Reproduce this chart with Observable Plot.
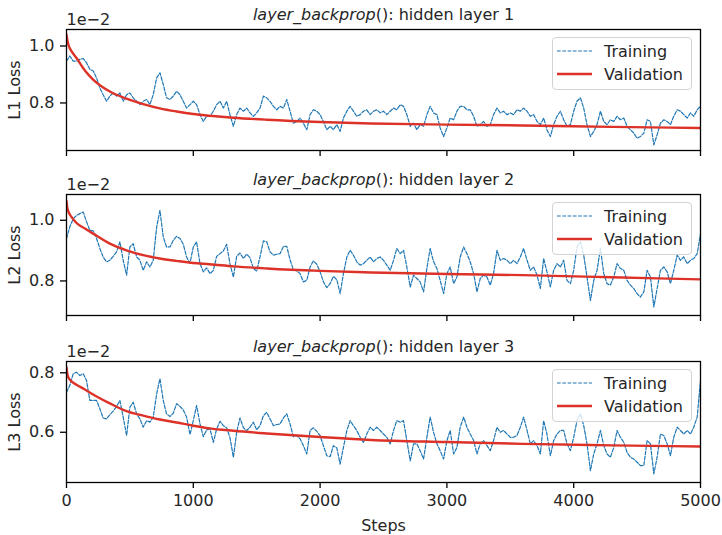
<!DOCTYPE html>
<html><head><meta charset="utf-8">
<script src="https://cdn.jsdelivr.net/npm/d3@7"></script>
<script src="https://cdn.jsdelivr.net/npm/@observablehq/plot@0.6"></script>
<style>
body{margin:0;background:#fff;}
#chart{position:relative;width:722px;height:535px;font-family:"DejaVu Sans",sans-serif;color:#262626;}
.panel{position:relative;width:722px;}
.panel svg{display:block;}
.legend{position:absolute;left:552px;width:140px;height:53px;box-sizing:border-box;border:1px solid #d3d3d3;border-radius:4px;background:rgba(255,255,255,0.8);}
</style></head><body><div id="chart"></div>
<script>
// Loss values are in units of 1e-2 (as displayed on the axes)
const stepTicks = [0, 1000, 2000, 3000, 4000, 5000];
const trainSteps = [
0,26,53,79,105,132,158,184,211,237,263,289,316,342,368,395,421,447,474,500,526,553,579,605,632,658,684,711,737,763,789,816,842,868,895,921,947,974,
1000,1026,1053,1079,1105,1132,1158,1184,1211,1237,1263,1289,1316,1342,1368,1395,1421,1447,1474,1500,1526,1553,1579,1605,1632,1658,1684,1711,1737,1763,1789,1816,1842,1868,1895,1921,1947,1974,
2000,2026,2053,2079,2105,2132,2158,2184,2211,2237,2263,2289,2316,2342,2368,2395,2421,2447,2474,2500,2526,2553,2579,2605,2632,2658,2684,2711,2737,2763,2789,2816,2842,2868,2895,2921,2947,2974,
3000,3026,3053,3079,3105,3132,3158,3184,3211,3237,3263,3289,3316,3342,3368,3395,3421,3447,3474,3500,3526,3553,3579,3605,3632,3658,3684,3711,3737,3763,3789,3816,3842,3868,3895,3921,3947,3974,
4000,4026,4053,4079,4105,4132,4158,4184,4211,4237,4263,4289,4316,4342,4368,4395,4421,4447,4474,4500,4526,4553,4579,4605,4632,4658,4684,4711,4737,4763,4789,4816,4842,4868,4895,4921,4947,4974,
5000];
const trainL1 = [
0.947,0.965,0.947,0.947,0.953,0.956,0.941,0.918,0.912,0.888,
0.853,0.829,0.806,0.824,0.835,0.824,0.835,0.806,0.829,0.835,
0.818,0.806,0.794,0.806,0.812,0.794,0.829,0.888,0.906,0.865,
0.818,0.812,0.824,0.841,0.829,0.806,0.782,0.794,0.806,0.794,
0.759,0.735,0.753,0.753,0.771,0.794,0.806,0.782,0.806,0.759,
0.718,0.759,0.782,0.771,0.782,0.765,0.753,0.765,0.782,0.824,
0.818,0.806,0.788,0.776,0.788,0.782,0.812,0.771,0.729,0.735,
0.747,0.729,0.706,0.759,0.776,0.771,0.759,0.735,0.706,0.718,
0.706,0.724,0.700,0.747,0.771,0.788,0.771,0.753,0.759,0.771,
0.776,0.759,0.771,0.776,0.765,0.771,0.759,0.771,0.782,0.776,
0.794,0.788,0.759,0.718,0.729,0.706,0.724,0.718,0.759,0.788,
0.765,0.759,0.712,0.682,0.712,0.747,0.741,0.771,0.788,0.788,
0.776,0.776,0.753,0.718,0.724,0.735,0.718,0.724,0.759,0.782,
0.765,0.771,0.759,0.765,0.759,0.776,0.771,0.782,0.771,0.753,
0.759,0.735,0.724,0.747,0.706,0.682,0.724,0.753,0.771,0.741,
0.718,0.724,0.771,0.806,0.818,0.782,0.724,0.682,0.700,0.724,
0.771,0.735,0.724,0.741,0.735,0.753,0.741,0.747,0.718,0.706,
0.694,0.676,0.682,0.694,0.741,0.735,0.653,0.688,0.729,0.741,
0.735,0.724,0.753,0.776,0.771,0.759,0.747,0.765,0.753,0.776,
0.788];
const trainL2 = [
0.940,0.978,1.005,1.016,1.022,1.027,0.995,0.967,0.965,0.940,
0.907,0.879,0.863,0.868,0.881,0.896,0.929,0.868,0.819,0.912,
0.923,0.879,0.868,0.835,0.863,0.846,0.868,0.978,1.033,0.945,
0.912,0.912,0.934,0.947,0.940,0.921,0.879,0.859,0.912,0.929,
0.857,0.830,0.843,0.824,0.835,0.881,0.890,0.899,0.921,0.857,
0.813,0.881,0.892,0.874,0.888,0.877,0.841,0.833,0.879,0.932,
0.929,0.896,0.885,0.888,0.890,0.914,0.914,0.870,0.837,0.833,
0.824,0.797,0.802,0.846,0.866,0.855,0.830,0.797,0.778,0.791,
0.815,0.804,0.758,0.824,0.879,0.901,0.885,0.863,0.852,0.857,
0.868,0.879,0.863,0.874,0.879,0.868,0.852,0.835,0.868,0.907,
0.890,0.901,0.846,0.780,0.819,0.808,0.797,0.764,0.841,0.907,
0.863,0.841,0.802,0.758,0.824,0.846,0.791,0.813,0.879,0.912,
0.890,0.863,0.824,0.764,0.808,0.819,0.813,0.786,0.824,0.901,
0.868,0.874,0.868,0.857,0.868,0.857,0.879,0.907,0.868,0.835,
0.846,0.819,0.775,0.874,0.830,0.780,0.835,0.857,0.846,0.868,
0.802,0.791,0.835,0.912,0.929,0.885,0.813,0.736,0.802,0.835,
0.907,0.824,0.791,0.786,0.813,0.857,0.841,0.835,0.802,0.786,
0.775,0.758,0.747,0.764,0.835,0.813,0.714,0.775,0.835,0.846,
0.830,0.791,0.835,0.885,0.868,0.879,0.857,0.868,0.874,0.890,
0.956];
const trainL3 = [
0.735,0.757,0.797,0.802,0.791,0.797,0.774,0.707,0.707,0.707,
0.679,0.648,0.645,0.659,0.671,0.687,0.707,0.651,0.589,0.684,
0.701,0.662,0.645,0.617,0.639,0.634,0.651,0.729,0.780,0.707,
0.662,0.653,0.664,0.696,0.687,0.675,0.651,0.592,0.639,0.690,
0.628,0.585,0.608,0.611,0.566,0.611,0.637,0.622,0.615,0.583,
0.516,0.600,0.648,0.615,0.606,0.617,0.634,0.608,0.622,0.656,
0.667,0.645,0.622,0.626,0.628,0.648,0.662,0.628,0.585,0.589,
0.578,0.555,0.527,0.606,0.615,0.603,0.589,0.555,0.521,0.518,
0.555,0.547,0.493,0.549,0.606,0.639,0.622,0.606,0.583,0.566,
0.594,0.617,0.606,0.617,0.606,0.594,0.583,0.561,0.606,0.639,
0.634,0.639,0.572,0.504,0.561,0.561,0.538,0.510,0.583,0.651,
0.600,0.561,0.538,0.510,0.572,0.606,0.527,0.549,0.617,0.651,
0.617,0.594,0.572,0.527,0.561,0.572,0.555,0.538,0.572,0.617,
0.600,0.606,0.594,0.583,0.583,0.589,0.617,0.651,0.606,0.561,
0.572,0.555,0.527,0.639,0.594,0.521,0.572,0.594,0.606,0.606,
0.561,0.538,0.583,0.639,0.662,0.622,0.561,0.471,0.527,0.561,
0.606,0.555,0.527,0.516,0.549,0.606,0.583,0.566,0.532,0.516,
0.510,0.499,0.488,0.488,0.572,0.561,0.460,0.516,0.594,0.589,
0.561,0.521,0.583,0.617,0.606,0.594,0.606,0.594,0.617,0.651,
0.774];
const valSteps = [0, 5, 13, 25, 39, 79, 145, 210, 342, 473, 605, 736, 868, 1000, 1130, 1317, 1580, 2000, 2400, 3000, 3600, 4300, 5000];
const valL1 = [1.040, 1.025, 1.008, 0.993, 0.982, 0.958, 0.914, 0.882, 0.840, 0.815, 0.796, 0.781, 0.770, 0.761, 0.755, 0.748, 0.741, 0.733, 0.728, 0.724, 0.721, 0.716, 0.712];
const valL2 = [1.064, 1.045, 1.031, 1.020, 1.011, 0.991, 0.973, 0.956, 0.923, 0.901, 0.885, 0.874, 0.866, 0.859, 0.855, 0.848, 0.841, 0.833, 0.828, 0.823, 0.819, 0.812, 0.805];
const valL3 = [0.818, 0.800, 0.786, 0.778, 0.771, 0.760, 0.744, 0.727, 0.697, 0.671, 0.656, 0.643, 0.633, 0.622, 0.613, 0.605, 0.596, 0.584, 0.574, 0.567, 0.561, 0.556, 0.552];
const yTicks1 = [0.8, 1.0];
const yTicks2 = [0.8, 1.0];
const yTicks3 = [0.6, 0.8];
const yLabels = ["L1 Loss", "L2 Loss", "L3 Loss"];
const titlePrefix = "layer_backprop";
const titleSuffixes = ["(): hidden layer 1", "(): hidden layer 2", "(): hidden layer 3"];
const offsetText = "1e\u22122";
const seriesNames = ["Training", "Validation"];
const xLabel = "Steps";

const BLUE = "#1f77b4", RED = "#dc3228";
const panels = [
  {train: trainL1, val: valL1, domain: [0.633, 1.058], yTicks: yTicks1, height: 166, top: 29, last: false},
  {train: trainL2, val: valL2, domain: [0.686, 1.085], yTicks: yTicks2, height: 166, top: 28, last: false},
  {train: trainL3, val: valL3, domain: [0.431, 0.838], yTicks: yTicks3, height: 203, top: 29, last: true}
];

const chart = document.getElementById("chart");
panels.forEach((p, i) => {
  const train = trainSteps.map((s, k) => ({step: s, loss: p.train[k]}));
  const val = valSteps.map((s, k) => ({step: s, loss: p.val[k]}));
  const title = titlePrefix + titleSuffixes[i];
  const svg = Plot.plot({
    width: 722, height: p.height,
    marginLeft: 66, marginRight: 22, marginTop: p.top, marginBottom: p.height - p.top - 121,
    style: {fontFamily: "'DejaVu Sans', sans-serif", fontSize: "16px", color: "#262626", background: "white", overflow: "visible"},
    x: {domain: [0, 5000]},
    y: {domain: p.domain},
    marks: [
      Plot.line(train, {x: "step", y: "loss", stroke: BLUE, strokeWidth: 1.2, strokeDasharray: "3.7,1.6", clip: true}),
      Plot.line(val, {x: "step", y: "loss", stroke: RED, strokeWidth: 2.4, curve: "monotone-x", clip: true}),
      Plot.frame({stroke: "black", strokeWidth: 1.3}),
      Plot.axisX({ticks: stepTicks, tickSize: 6, tickPadding: 6, stroke: "black", strokeWidth: 1.3, fontSize: 16,
        tickFormat: p.last ? d3.format("d") : () => "",
        label: p.last ? xLabel : null, labelAnchor: "center", labelOffset: 48, labelArrow: "none"}),
      Plot.axisY({ticks: p.yTicks, tickSize: 6, tickPadding: 6, stroke: "black", strokeWidth: 1.3, fontSize: 16,
        tickFormat: d3.format(".1f"),
        label: yLabels[i], labelAnchor: "center", labelOffset: 58, labelArrow: "none"}),
      Plot.text([title], {text: d => d, frameAnchor: "top", lineAnchor: "bottom", dy: -10, fontSize: 16, fill: "#262626"}),
      Plot.text([offsetText], {text: d => d, frameAnchor: "top-left", textAnchor: "start", lineAnchor: "bottom", dy: -5, fontSize: 16, fill: "#262626"})
    ]
  });
  // italicize the function name in the title
  svg.querySelectorAll("text").forEach(t => {
    if (t.textContent === title) {
      t.textContent = "";
      const a = document.createElementNS("http://www.w3.org/2000/svg", "tspan");
      a.setAttribute("font-style", "italic");
      a.textContent = titlePrefix;
      const b = document.createElementNS("http://www.w3.org/2000/svg", "tspan");
      b.textContent = titleSuffixes[i];
      t.appendChild(a); t.appendChild(b);
    }
  });
  const wrap = document.createElement("div");
  wrap.className = "panel";
  wrap.appendChild(svg);
  const leg = document.createElement("div");
  leg.className = "legend";
  leg.style.top = (p.top + 8) + "px";
  leg.innerHTML = `<svg width="138" height="51" style="font-family:'DejaVu Sans',sans-serif;font-size:16px;fill:#262626">
    <line x1="4" x2="39" y1="13" y2="13" stroke="${BLUE}" stroke-width="1.2" stroke-dasharray="3.7,1.6"/>
    <text x="51" y="13" dominant-baseline="central">${seriesNames[0]}</text>
    <line x1="4" x2="39" y1="36" y2="36" stroke="${RED}" stroke-width="2.4"/>
    <text x="51" y="36" dominant-baseline="central">${seriesNames[1]}</text></svg>`;
  wrap.appendChild(leg);
  chart.appendChild(wrap);
});
</script></body></html>
